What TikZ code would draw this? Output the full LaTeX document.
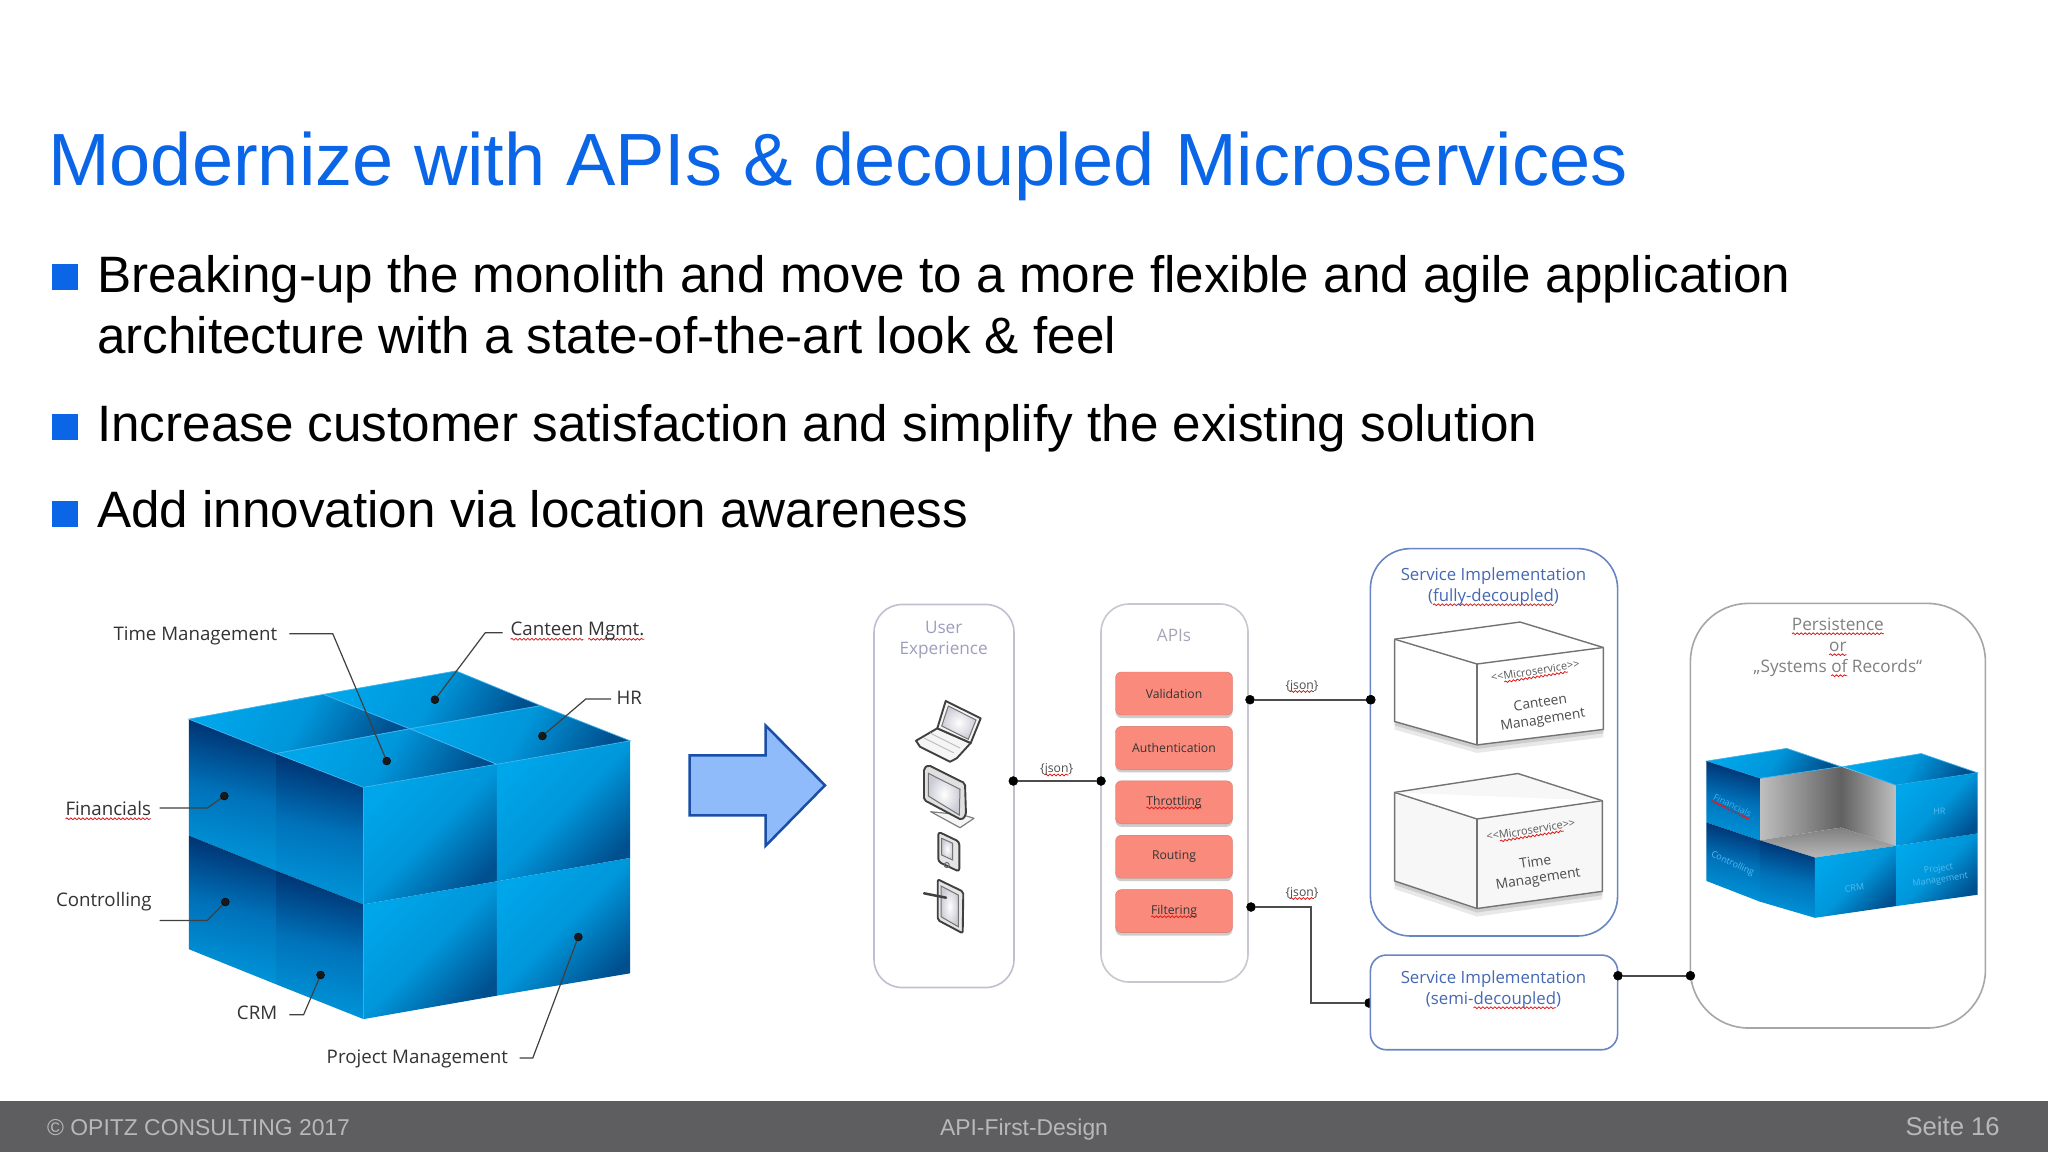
\documentclass[tikz,border=0pt]{standalone}
\usepackage{fontspec}
\usepackage{tikz}
\usetikzlibrary{calc, positioning, shadows, decorations.pathmorphing}
\setmainfont{Liberation Sans}
\newfontfamily\opensans{Open Sans}
\definecolor{titleblue}{HTML}{0A66E6}
\definecolor{footergrey}{HTML}{5E5D60}
\definecolor{footertext}{HTML}{B8B8B8}
\definecolor{cubeDark}{HTML}{002E6C}
\definecolor{cubeShade}{HTML}{00508F}
\definecolor{cubeSide}{HTML}{0072BA}
\definecolor{cubeMid}{HTML}{0096DA}
\definecolor{cubeLight}{HTML}{00A6EA}
\definecolor{cubeEdge}{HTML}{3FB4EE}
\definecolor{apired}{HTML}{FA8B7C}
\definecolor{servblue}{HTML}{4468B4}
\definecolor{spellred}{HTML}{E01818}
\definecolor{arrowfill}{HTML}{8FBBFB}
\definecolor{arrowline}{HTML}{1A4FA8}
\newdimen\spellwd
\newdimen\spelldp
\tikzstyle{spellline}=[draw=spellred,line width=0.8pt,decorate,decoration={snake,segment length=4pt,amplitude=0.9pt}]
\newcommand{\spell}[1]{\leavevmode\setbox0\hbox{#1}\spellwd=\wd0\relax\spelldp=0.2em\relax\rlap{\tikz[overlay]\path[spellline] (0pt,-\spelldp) -- (\spellwd,-\spelldp);}\box0\relax}
\tikzstyle{titletext}=[anchor=base west,inner sep=0,text=titleblue,font=\fontsize{74}{74}\selectfont]
\tikzstyle{itemtext}=[anchor=base west,inner sep=0,font=\fontsize{51.2}{51.2}\selectfont]
\tikzstyle{bulletbox}=[fill=titleblue,inner sep=0,minimum width=26pt,minimum height=26pt]
\tikzstyle{footertxt}=[inner sep=0,text=footertext,font=\fontsize{22.9}{24}\selectfont]
\tikzstyle{cubelbl}=[inner sep=0,outer sep=0,text=black!80,font=\opensans\fontsize{18.7}{19}\selectfont]
\tikzstyle{leader}=[draw=black!75,line width=1.2pt]
\tikzstyle{pin}=[draw,circle,inner sep=0,minimum size=8pt,fill=black!90]
\tikzstyle{dot}=[draw,circle,inner sep=0,minimum size=9pt,fill=black]
\tikzstyle{conn}=[draw=black!70,line width=2pt]
\tikzstyle{topface}=[draw=cubeEdge,line width=0.7pt,top color=cubeLight,bottom color=cubeShade,middle color=cubeMid,shading angle=60]
\tikzstyle{leftface}=[top color=cubeDark,bottom color=cubeMid,middle color=cubeSide,shading angle=-13]
\tikzstyle{rightface}=[top color=cubeLight,bottom color=cubeShade,middle color=cubeMid,shading angle=45]
\tikzstyle{panel}=[draw,rounded corners=28pt,line width=1.6pt,inner sep=0]
\tikzstyle{paneltxt}=[inner sep=0,align=center,font=\opensans\fontsize{17.2}{21}\selectfont]
\tikzstyle{apibox}=[draw=apired!85!black,fill=apired,rounded corners=6pt,inner sep=0,minimum width=117pt,minimum height=43pt,drop shadow={shadow xshift=0pt,shadow yshift=-3pt,opacity=0.4}]
\tikzstyle{apitxt}=[inner sep=0,text=black!80,font=\opensans\fontsize{12.2}{13}\selectfont]
\tikzstyle{jsonlbl}=[inner sep=0,text=black!70,font=\opensans\fontsize{12.2}{13}\selectfont]
\tikzstyle{servtxt}=[inner sep=0,align=center,text=servblue,font=\opensans\fontsize{16.8}{21}\selectfont]
\tikzstyle{boxtxt}=[inner sep=0,align=center,rotate=9,text=black!70,font=\opensans\fontsize{13.8}{17}\selectfont]
\tikzstyle{microtxt}=[inner sep=0,rotate=9,text=black!65,font=\opensans\fontsize{11}{11}\selectfont]
\tikzstyle{boxface}=[draw=black!55,line width=1.4pt,line join=round,fill=white]
\tikzstyle{boxshadow}=[drop shadow={shadow xshift=0pt,shadow yshift=-8pt,opacity=0.18},drop shadow={shadow xshift=0pt,shadow yshift=-4pt,opacity=0.25}]
\tikzstyle{device}=[draw=black!75,line width=1.9pt,line join=round,fill=black!4]
\tikzstyle{screen}=[draw=black!55,line width=1pt,inner color=white,outer color=blue!20!black!20]
\tikzstyle{minilbl}=[inner sep=0,align=center,text=cubeEdge!90!white,font=\opensans\fontsize{9}{11}\selectfont]
\begin{document}
\begin{tikzpicture}[x=1pt,y=-1pt]
	\useasboundingbox (0,0) rectangle (2048,1152);
	\fill[white] (0,0) rectangle (2048,1152);
	\node[titletext] (title) at (48,185) {Modernize with APIs \& decoupled Microservices};
	\node[bulletbox] (b1) at (64.5,276.5) {};
	\node[itemtext] (item1) at (97,292) {Breaking-up the monolith and move to a more flexible and agile application};
	\node[itemtext] (item1b) at (97,353) {architecture with a state-of-the-art look \& feel};
	\node[bulletbox] (b2) at (64.5,426.5) {};
	\node[itemtext] (item2) at (97,441) {Increase customer satisfaction and simplify the existing solution};
	\node[bulletbox] (b3) at (64.5,513.5) {};
	\node[itemtext] (item3) at (97,527.5) {Add innovation via location awareness};
	\begin{scope}[shift={(30,560)},x=0.5293pt,y=-0.3444pt]
		\shade[leftface] (300,462) -- (465,562) -- (465,902) -- (300,800) -- cycle;
		\shade[leftface] (465,562) -- (630,660) -- (630,1000) -- (465,902) -- cycle;
		\shade[leftface] (300,800) -- (465,902) -- (465,1232) -- (300,1130) -- cycle;
		\shade[leftface] (465,902) -- (630,1000) -- (630,1333) -- (465,1232) -- cycle;
		\shade[rightface] (630,660) -- (882,593) -- (882,933) -- (630,1000) -- cycle;
		\shade[rightface] (882,593) -- (1134,525) -- (1134,865) -- (882,933) -- cycle;
		\shade[rightface] (630,1000) -- (882,933) -- (882,1265) -- (630,1333) -- cycle;
		\shade[rightface] (882,933) -- (1134,865) -- (1134,1200) -- (882,1265) -- cycle;
		\shade[topface] (300,462) -- (555,390) -- (718,490) -- (465,562) -- cycle;
		\shade[topface] (555,390) -- (805,322) -- (965,423) -- (718,490) -- cycle;
		\shade[topface] (465,562) -- (718,490) -- (882,593) -- (630,660) -- cycle;
		\shade[topface] (718,490) -- (965,423) -- (1134,525) -- (882,593) -- cycle;
	\end{scope}
	\node[cubelbl,anchor=east] (timelbl) at (277.2,636) {Time Management};
	\node[cubelbl,anchor=west] (canteenlbl) at (510.6,631) {\spell{Canteen} \spell{Mgmt.}};
	\node[cubelbl,anchor=west] (hrlbl) at (616.5,698) {HR};
	\node[cubelbl,anchor=east] (finlbl) at (151,808) {\spell{Financials}};
	\node[cubelbl,anchor=east] (ctrllbl) at (151.7,902) {Controlling};
	\node[cubelbl,anchor=east] (crmlbl) at (277.2,1013) {CRM};
	\node[cubelbl,anchor=east] (pmlbl) at (508,1058.5) {Project Management};
	\node[pin] (timepin) at (386.7,761) {};
	\node[pin] (canteenpin) at (434.9,699.7) {};
	\node[pin] (hrpin) at (542.4,736) {};
	\node[pin] (finpin) at (224.3,796) {};
	\node[pin] (ctrlpin) at (225.3,902) {};
	\node[pin] (crmpin) at (320.6,975) {};
	\node[pin] (pmpin) at (578.3,937) {};
	\coordinate (timefree) at (289.4,633.8);
	\coordinate (timebend) at (332.8,633.8);
	\coordinate (canteenfree) at (502.7,632.8);
	\coordinate (canteenbend) at (485.2,632.8);
	\coordinate (hrfree) at (611.2,699);
	\coordinate (hrbend) at (585.8,699);
	\coordinate (finfree) at (159.7,808);
	\coordinate (finbend) at (207.3,808);
	\coordinate (ctrlfree) at (159.7,920.5);
	\coordinate (ctrlbend) at (207.3,920.5);
	\coordinate (crmfree) at (289.4,1014.7);
	\coordinate (crmbend) at (303.6,1014.7);
	\coordinate (pmfree) at (519.6,1058);
	\coordinate (pmbend) at (532.8,1058);
	\draw[leader] (timefree) -- (timebend) -- (timepin);
	\draw[leader] (canteenfree) -- (canteenbend) -- (canteenpin);
	\draw[leader] (hrfree) -- (hrbend) -- (hrpin);
	\draw[leader] (finfree) -- (finbend) -- (finpin);
	\draw[leader] (ctrlfree) -- (ctrlbend) -- (ctrlpin);
	\draw[leader] (crmfree) -- (crmbend) -- (crmpin);
	\draw[leader] (pmfree) -- (pmbend) -- (pmpin);
	\draw[draw=arrowline,line width=2.5pt,line join=miter,fill=arrowfill] (689.5,755.3) -- (765.7,755.3) -- (765.7,725.6) -- (825,785.3) -- (765.7,845.7) -- (765.7,815.3) -- (689.5,815.3) -- cycle;
	\node[panel,draw=blue!30!black!25,minimum width=140pt,minimum height=383pt] (uxbox) at (944,796) {};
	\node[paneltxt,text=blue!35!black!38] (uxlbl) at (943.7,640) {User\\Experience};
	\node[panel,draw=blue!15!black!22,minimum width=147pt,minimum height=378pt] (apibox) at (1174.5,793) {};
	\node[paneltxt,text=blue!20!black!35] (apilbl) at (1174,635.6) {APIs};
	\node[apibox] (valid) at (1174,693.5) {};
	\node[apibox,below=11pt of valid] (auth) {};
	\node[apibox,below=11pt of auth] (throttle) {};
	\node[apibox,below=11pt of throttle] (routing) {};
	\node[apibox,below=11pt of routing] (filter) {};
	\node[apitxt] (validtxt) at (valid) {Validation};
	\node[apitxt] (authtxt) at (auth) {Authentication};
	\node[apitxt] (throttletxt) at (throttle) {\spell{Throttling}};
	\node[apitxt] (routingtxt) at (routing) {Routing};
	\node[apitxt] (filtertxt) at (filter) {\spell{Filtering}};
	\draw[device] (937.3,728.3) -- (970.7,743) -- (956.7,758.3) -- (950,761.7) -- (920,746.7) -- (916,740.7) -- cycle;
	\draw[black!25,line width=1pt] (930,733) -- (960,748) (924,738) -- (954,753);
	\draw[device] (945.7,701) -- (980.7,718.3) -- (970.7,743) -- (937.3,728.3) -- cycle;
	\shade[screen] (948.3,706) -- (976,720) -- (968.3,739.3) -- (941.7,726) -- cycle;
	\draw[device,line width=1.2pt,draw=black!50] (930.7,811.7) -- (963.3,815) -- (974,818.3) -- (960,827.7) -- cycle;
	\draw[device,rounded corners=2pt,fill=black!12] (924,768.3) -- (928.3,765) -- (965,783.3) -- (966,815) -- (961.7,820) -- (924,800) -- cycle;
	\shade[screen] (928.3,773.3) -- (960,789.3) -- (959.3,815) -- (928.3,796) -- cycle;
	\draw[device,rounded corners=3pt,fill=black!10] (938.3,831.7) -- (959.3,841.7) -- (959.3,871.7) -- (938.3,861.7) -- cycle;
	\shade[screen] (941.7,838.3) -- (952.7,843.3) -- (952.7,860) -- (941.7,855) -- cycle;
	\draw[black!60,line width=1pt] (946.7,865) circle (2.5);
	\draw[device,rounded corners=2pt,fill=black!10] (937.7,879.3) -- (963.3,891.7) -- (962.7,933.3) -- (937.7,920) -- cycle;
	\shade[screen] (941,886) -- (958.3,895) -- (958.3,926.7) -- (941,916.7) -- cycle;
	\draw[black!75,line width=2.5pt,line cap=round] (924,893.3) -- (946,897.7);
	\node[dot] (uxdot) at (1013.3,781) {};
	\node[dot] (apidot) at (1101,781) {};
	\node[dot] (apitop) at (1250,699.7) {};
	\node[dot] (servtop) at (1370.7,699.7) {};
	\node[dot] (apilow) at (1251,907) {};
	\node[dot] (semidot) at (1369,1003) {};
	\coordinate (jog) at (1311,907);
	\path (uxdot) edge[conn] (apidot);
	\path (apitop) edge[conn] (servtop);
	\draw[conn] (apilow) -- (jog) |- (semidot);
	\node[jsonlbl] (json1) at (1056.7,769.5) {\{\spell{json}\}};
	\node[jsonlbl] (json2) at (1302,686) {\{\spell{json}\}};
	\node[jsonlbl] (json3) at (1302,893) {\{\spell{json}\}};
	\node[panel,draw=servblue!80,minimum width=247.2pt,minimum height=387.4pt,rounded corners=40pt] (fullbox) at (1494,742.3) {};
	\node[dot] at (servtop) {};
	\node[servtxt] (fulllbl) at (1493.5,586.5) {Service Implementation\\(\spell{fully-decoupled})};
	\node[panel,draw=servblue!80,fill=white,minimum width=247.2pt,minimum height=94.7pt,rounded corners=16pt] (semibox) at (1494,1002.4) {};
	\node[servtxt] (semilbl) at (1493.5,989.5) {Service Implementation\\(semi-\spell{decoupled})};
	\node[panel,draw=black!35,minimum width=295pt,minimum height=424.6pt,rounded corners=58pt] (persbox) at (1837.9,815.7) {};
	\node[paneltxt,text=black!50] (perslbl) at (1837.9,647) {\spell{Persistence}\\\spell{or}\\„Systems \spell{of} Records“};
	\node[dot] (semiright) at (1618,975.7) {};
	\node[dot] (persdot) at (1690.4,975.7) {};
	\path (semiright) edge[conn] (persdot);
	\draw[boxface,boxshadow] (1394.6,639.2) -- (1520,622) -- (1603.3,647.5) -- (1603.3,729.4) -- (1477,744.9) -- (1394.6,721.5) -- cycle;
	\draw[boxface] (1394.6,639.2) -- (1477,664) -- (1603.3,647.5);
	\draw[boxface] (1477,664) -- (1477,744.9);
	\node[microtxt] (micro1) at (1535.2,670.9) {<<\spell{Microservice}>>};
	\node[boxtxt] (canteenbox) at (1541.7,712.2) {Canteen\\Management};
	\draw[boxface,fill=black!3,boxshadow] (1394.6,792.4) -- (1517.8,773.5) -- (1602.4,800.7) -- (1602.4,891.3) -- (1477,908.5) -- (1394.6,881) -- cycle;
	\draw[boxface] (1394.6,792.4) -- (1477,819) -- (1602.4,800.7);
	\draw[boxface] (1477,819) -- (1477,908.5);
	\node[microtxt] (micro2) at (1530.8,830) {<<\spell{Microservice}>>};
	\node[boxtxt] (timebox) at (1536.9,871.3) {Time\\Management};
	\begin{scope}[shift={(1340,540)},x=0.4337pt,y=-0.3444pt]
		\shade[left color=black!25,right color=black!62] (968,692) -- (1155,658) -- (1155,835) -- (968,872) -- cycle;
		\shade[left color=black!62,right color=black!25] (1155,658) -- (1282,712) -- (1282,888) -- (1155,835) -- cycle;
		\shade[top color=black!50,bottom color=black!28] (968,872) -- (1155,835) -- (1282,888) -- (1095,922) -- cycle;
		\shade[topface] (845,642) -- (1030,605) -- (1155,658) -- (968,692) -- cycle;
		\shade[topface] (1160,658) -- (1340,620) -- (1470,676) -- (1282,712) -- cycle;
		\shade[leftface] (845,642) -- (968,692) -- (968,872) -- (845,820) -- cycle;
		\shade[leftface] (845,820) -- (968,872) -- (968,1050) -- (845,990) -- cycle;
		\shade[leftface] (968,872) -- (1095,922) -- (1095,1097) -- (968,1050) -- cycle;
		\shade[rightface] (1095,922) -- (1282,888) -- (1282,1063) -- (1095,1097) -- cycle;
		\shade[rightface] (1282,888) -- (1470,852) -- (1470,1030) -- (1282,1063) -- cycle;
		\shade[rightface] (1282,712) -- (1470,676) -- (1470,852) -- (1282,888) -- cycle;
		\node[minilbl,rotate=-26,text=cubeEdge] (minifin) at (905,770) {\spell{Financials}};
		\node[minilbl,rotate=-24] (minictrl) at (905,940) {Controlling};
		\node[minilbl] (minihr) at (1382,787) {HR};
		\node[minilbl,rotate=6] (minicrm) at (1186,1010) {CRM};
		\node[minilbl,rotate=9] (minipm) at (1382,972) {Project\\Management};
	\end{scope}
	\fill[footergrey] (0,1100.5) rectangle (2048,1152);
	\node[footertxt,anchor=base west] (copy) at (47,1135) {© OPITZ CONSULTING 2017};
	\node[footertxt,anchor=base] (talk) at (1024,1135) {API-First-Design};
	\node[footertxt,anchor=base east,font=\fontsize{25.7}{26}\selectfont] (page) at (2000,1135) {Seite 16};
\end{tikzpicture}
\end{document}
